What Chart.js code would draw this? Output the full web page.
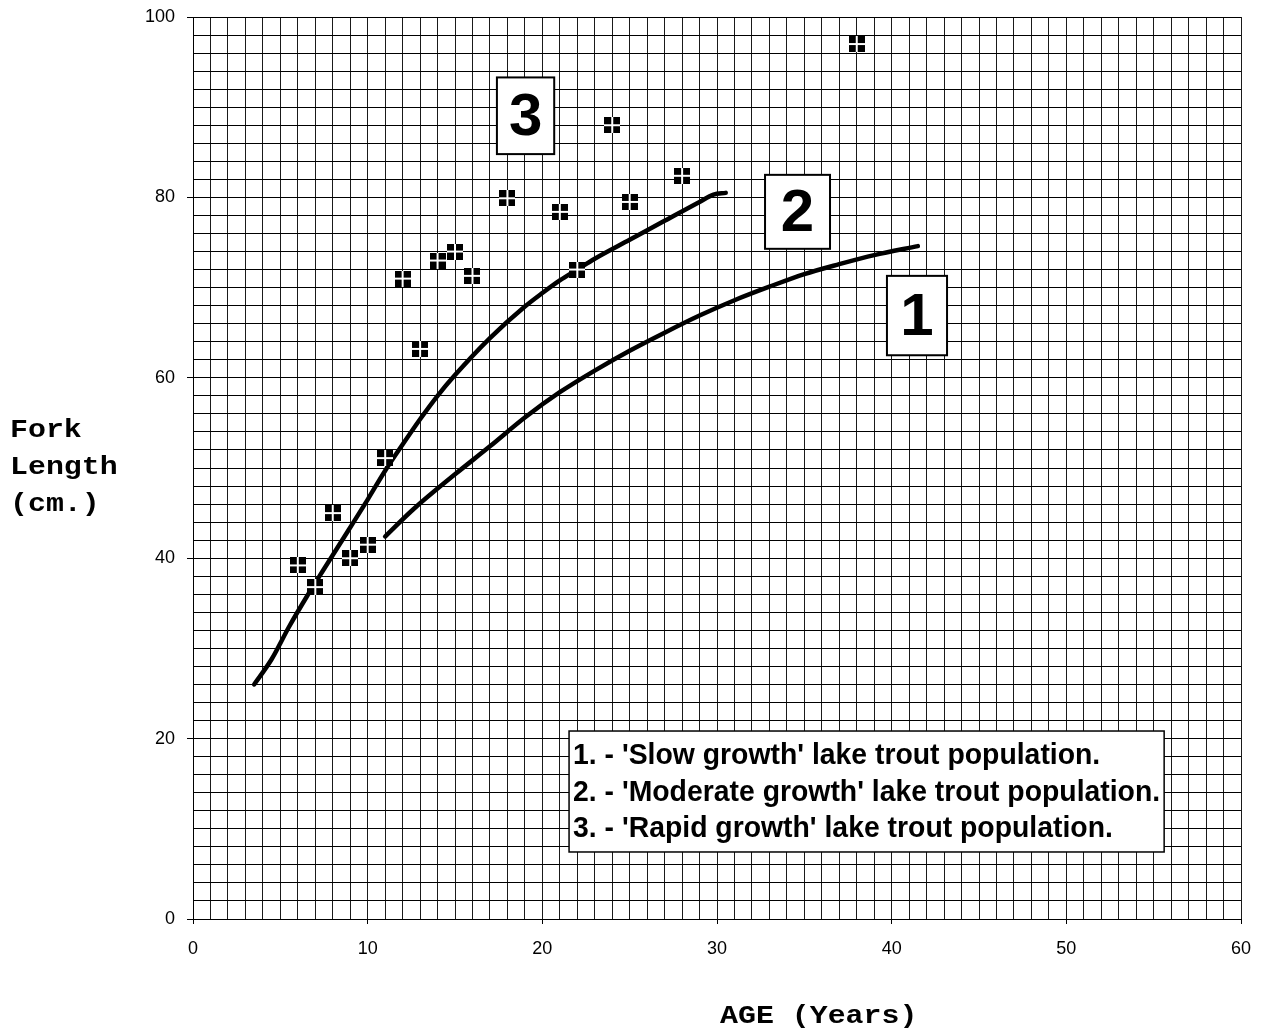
<!DOCTYPE html>
<html lang="en">
<head>
    <meta charset="UTF-8">
    <title>Lake trout growth</title>
    <script src="https://cdn.jsdelivr.net/npm/chart.js"></script>
    <style>
        body { margin: 0; background: #fff; }
        #wrap { width: 1263px; height: 1029px; position: relative; }
    </style>
</head>
<body>
    <div id="wrap"><canvas id="myChart"></canvas></div>
    <script>
    // slow growth curve (1)
    const slowAge = [11, 12.6, 15, 17, 19, 21, 23, 25, 27, 29, 31, 33, 35, 37, 39, 41.5];
    const slowLen = [42.4, 45.4, 49.3, 52.4, 55.6, 58.4, 60.8, 63.0, 65.0, 66.9, 68.6, 70.1, 71.5, 72.6, 73.6, 74.6];
    // moderate growth curve (2)
    const moderateAge = [3.5, 4.5, 5.5, 6.5, 7.5, 9, 10, 11, 12, 13, 14, 15, 17, 19, 20, 21, 22, 23, 25, 27, 29, 29.8, 30.5];
    const moderateLen = [26, 28.8, 32.4, 35.7, 38.8, 43.4, 46.5, 49.7, 52.6, 55.4, 58.0, 60.3, 64.4, 67.9, 69.4, 70.8, 72, 73.2, 75.3, 77.4, 79.5, 80.3, 80.5];
    // rapid growth sample points (3)
    const rapidAge = [6, 7, 8, 9, 10, 11, 12, 13, 14, 15, 16, 18, 21, 22, 24, 25, 28, 38];
    const rapidLen = [39.2, 36.8, 45, 40, 41.5, 51.1, 71, 63.2, 73, 74, 71.3, 79.9, 78.4, 72, 88, 79.5, 82.4, 97];

    const xTickLabels = [0, 10, 20, 30, 40, 50, 60];
    const yTickLabels = [0, 20, 40, 60, 80, 100];
    const curveNumbers = ['1', '2', '3'];
    const legendLines = [
        "1. - 'Slow growth' lake trout population.",
        "2. - 'Moderate growth' lake trout population.",
        "3. - 'Rapid growth' lake trout population."
    ];
    const yTitle = ['Fork', 'Length', '(cm.)'];
    const xTitle = 'AGE (Years)';

    function toPoints(xs, ys) {
        return xs.map((v, i) => ({x: v, y: ys[i]}));
    }

    // marker: black square split in four by a white cross
    function makeMarker() {
        const c = document.createElement('canvas');
        c.width = 16; c.height = 16;
        const g = c.getContext('2d');
        g.fillStyle = '#000';
        g.fillRect(0, 0, 7, 7);
        g.fillRect(9, 0, 7, 7);
        g.fillRect(0, 9, 7, 7);
        g.fillRect(9, 9, 7, 7);
        g.fillStyle = '#fff';
        g.fillRect(7, 0, 2, 16);
        g.fillRect(0, 7, 16, 2);
        return c;
    }

    // number boxes, in data units [xmin, xmax, ymin, ymax]
    const numberBoxes = [
        [39.73, 43.17, 62.5, 71.3],
        [32.75, 36.47, 74.3, 82.5],
        [17.4, 20.68, 84.8, 93.3]
    ];
    const legendBox = [21.53, 55.6, 7.43, 20.84];

    const annotate = {
        id: 'annotate',
        afterDatasetsDraw(chart) {
            const ctx = chart.ctx;
            const x = chart.scales.x, y = chart.scales.y;
            ctx.save();
            // number boxes
            numberBoxes.forEach((b, i) => {
                const l = x.getPixelForValue(b[0]), r = x.getPixelForValue(b[1]);
                const t = y.getPixelForValue(b[3]), bt = y.getPixelForValue(b[2]);
                ctx.fillStyle = '#fff';
                ctx.fillRect(l, t, r - l, bt - t);
                ctx.strokeStyle = '#000';
                ctx.lineWidth = 2;
                ctx.strokeRect(l, t, r - l, bt - t);
                ctx.fillStyle = '#000';
                ctx.font = 'bold 60px "Liberation Sans", Arial, sans-serif';
                ctx.textAlign = 'center';
                ctx.textBaseline = 'alphabetic';
                ctx.fillText(curveNumbers[i], (l + r) / 2, (t + bt) / 2 + 19);
            });
            // legend box
            const l = x.getPixelForValue(legendBox[0]), r = x.getPixelForValue(legendBox[1]);
            const t = y.getPixelForValue(legendBox[3]), bt = y.getPixelForValue(legendBox[2]);
            ctx.fillStyle = '#fff';
            ctx.fillRect(l, t, r - l, bt - t);
            ctx.strokeStyle = '#000';
            ctx.lineWidth = 1.5;
            ctx.strokeRect(l, t, r - l, bt - t);
            ctx.font = 'bold 30px "Liberation Sans", Arial, sans-serif';
            ctx.textAlign = 'left';
            ctx.fillStyle = '#000';
            const maxW = Math.max(...legendLines.map(s => ctx.measureText(s).width));
            const sx = (r - l - 8) / maxW;
            legendLines.forEach((s, i) => {
                ctx.save();
                ctx.translate(l + 4, t + 33 + i * 36.5);
                ctx.scale(sx, 1);
                ctx.fillText(s, 0, 0);
                ctx.restore();
            });
            ctx.restore();
        },
        afterDraw(chart) {
            const ctx = chart.ctx;
            ctx.save();
            ctx.fillStyle = '#000';
            ctx.font = 'bold 26px "Liberation Mono", "Courier New", monospace';
            ctx.textAlign = 'left';
            ctx.textBaseline = 'alphabetic';
            yTitle.forEach((s, i) => {
                ctx.save();
                ctx.translate(10, 437 + i * 37);
                ctx.scale(1.15, 1);
                ctx.fillText(s, 0, 0);
                ctx.restore();
            });
            ctx.save();
            ctx.translate(720, 1023);
            ctx.scale(1.15, 1);
            ctx.fillText(xTitle, 0, 0);
            ctx.restore();
            ctx.restore();
        }
    };

    const ctx = document.getElementById('myChart');
    new Chart(ctx, {
        type: 'scatter',
        data: {
            datasets: [{
                label: 'Rapid growth',
                data: toPoints(rapidAge, rapidLen),
                pointStyle: makeMarker(),
                pointRadius: 8
            }, {
                label: 'Slow growth',
                data: toPoints(slowAge, slowLen),
                showLine: true,
                borderColor: '#000',
                borderWidth: 4.5,
                pointRadius: 0,
                cubicInterpolationMode: 'monotone',
                borderCapStyle: 'round'
            }, {
                label: 'Moderate growth',
                data: toPoints(moderateAge, moderateLen),
                showLine: true,
                borderColor: '#000',
                borderWidth: 4.5,
                pointRadius: 0,
                cubicInterpolationMode: 'monotone',
                borderCapStyle: 'round'
            }]
        },
        options: {
            responsive: true,
            maintainAspectRatio: false,
            animation: false,
            layout: { padding: { left: 0, right: 22, top: 17, bottom: 0 } },
            plugins: { legend: { display: false }, tooltip: { enabled: false } },
            scales: {
                x: {
                    type: 'linear',
                    min: 0, max: 60,
                    afterFit: s => { s.height = 110; s.paddingLeft = 0; s.paddingRight = 0; },
                    ticks: {
                        stepSize: 1,
                        autoSkip: false,
                        maxRotation: 0,
                        padding: 14,
                        color: '#000',
                        font: { family: '"Liberation Sans", Arial, sans-serif', size: 18 },
                        callback: v => xTickLabels.includes(v) ? String(v) : ''
                    },
                    grid: {
                        color: '#1a1a1a',
                        lineWidth: 1,
                        tickLength: 5,
                        tickColor: c => (c.tick && xTickLabels.includes(c.tick.value)) ? '#000' : 'rgba(0,0,0,0)'
                    },
                    border: { color: '#000', width: 1 }
                },
                y: {
                    type: 'linear',
                    min: 0, max: 100,
                    afterFit: s => { s.width = 193; s.paddingTop = 0; s.paddingBottom = 0; },
                    ticks: {
                        stepSize: 2,
                        autoSkip: false,
                        padding: 12,
                        color: '#000',
                        font: { family: '"Liberation Sans", Arial, sans-serif', size: 18 },
                        callback: v => yTickLabels.includes(v) ? String(v) : ''
                    },
                    grid: {
                        color: '#000',
                        lineWidth: 1,
                        tickLength: 6,
                        tickColor: c => (c.tick && yTickLabels.includes(c.tick.value)) ? '#000' : 'rgba(0,0,0,0)'
                    },
                    border: { color: '#000', width: 1 }
                }
            }
        },
        plugins: [annotate]
    });
    </script>
</body>
</html>
